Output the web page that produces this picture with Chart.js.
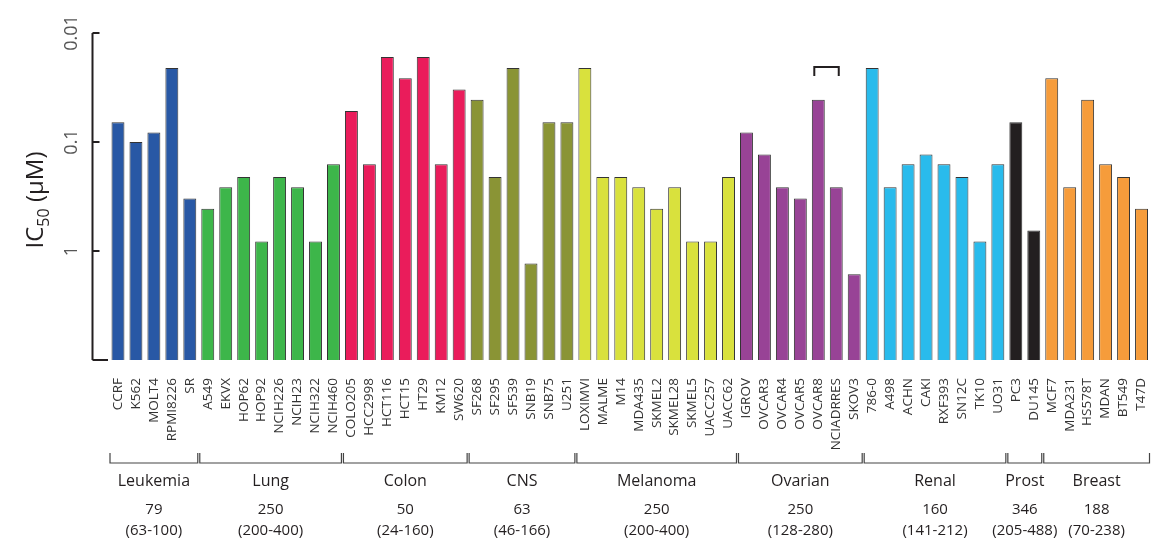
<!DOCTYPE html>
<html>
<head>
<meta charset="utf-8">
<script src="https://cdn.jsdelivr.net/npm/chart.js@4"></script>
<style>
  html, body { margin: 0; padding: 0; background: #fff; }
  #wrap { width: 1157px; height: 542px; }
</style>
</head>
<body>
<div id="wrap"><canvas id="ic50"></canvas></div>
<script>
const cellLines = [
  "CCRF","K562","MOLT4","RPMI8226","SR",
  "A549","EKVX","HOP62","HOP92","NCIH226","NCIH23","NCIH322","NCIH460",
  "COLO205","HCC2998","HCT116","HCT15","HT29","KM12","SW620",
  "SF268","SF295","SF539","SNB19","SNB75","U251",
  "LOXIMVI","MALME","M14","MDA435","SKMEL2","SKMEL28","SKMEL5","UACC257","UACC62",
  "IGROV","OVCAR3","OVCAR4","OVCAR5","OVCAR8","NCIADRRES","SKOV3",
  "786-0","A498","ACHN","CAKI","RXF393","SN12C","TK10","UO31",
  "PC3","DU145",
  "MCF7","MDA231","HS578T","MDAN","BT549","T47D"
];
// IC50 in µM
const ic50 = [
  0.066, 0.10, 0.082, 0.021, 0.33,
  0.41, 0.26, 0.21, 0.82, 0.21, 0.26, 0.82, 0.16,
  0.052, 0.16, 0.0166, 0.026, 0.0166, 0.16, 0.033,
  0.041, 0.21, 0.021, 1.3, 0.066, 0.066,
  0.021, 0.21, 0.21, 0.26, 0.41, 0.26, 0.82, 0.82, 0.21,
  0.082, 0.13, 0.26, 0.33, 0.041, 0.26, 1.63,
  0.021, 0.26, 0.16, 0.13, 0.16, 0.21, 0.82, 0.16,
  0.066, 0.65,
  0.026, 0.26, 0.041, 0.16, 0.21, 0.41
];
const groupNames = ["Leukemia","Lung","Colon","CNS","Melanoma","Ovarian","Renal","Prost","Breast"];
const groupSizes = [5, 8, 7, 6, 9, 7, 8, 2, 6];
const groupMedians = ["79","250","50","63","250","250","160","346","188"];
const groupRanges = ["(63-100)","(200-400)","(24-160)","(46-166)","(200-400)","(128-280)","(141-212)","(205-488)","(70-238)"];
const groupColors = ["#2858a5","#3db64a","#ea1c5b","#8a9435","#d9e13d","#984396","#29bbec","#231f20","#f69c3b"];
const yTicks = [0.01, 0.1, 1];
const yTickLabels = ["0.01","0.1","1"];

const barColors = [];
groupSizes.forEach((n, g) => { for (let i = 0; i < n; i++) barColors.push(groupColors[g]); });

// y axis, group brackets and labels drawn with the chart's own scales
const decorations = {
  id: "decorations",
  afterDraw(chart) {
    const ctx = chart.ctx;
    const x = chart.scales.x;
    const y = chart.scales.y;
    const area = chart.chartArea;
    const axisX = area.left - 16.5;
    const yTop = y.getPixelForValue(0.01);
    const yBot = y.getPixelForValue(10);

    ctx.save();
    ctx.strokeStyle = "#231f20";
    ctx.lineWidth = 2;
    ctx.beginPath();
    ctx.moveTo(axisX, yTop);
    ctx.lineTo(axisX, yBot);
    yTicks.forEach(v => {
      const py = y.getPixelForValue(v);
      ctx.moveTo(axisX, py);
      ctx.lineTo(axisX + 7, py);
    });
    ctx.moveTo(axisX, yBot);
    ctx.lineTo(area.left - 1, yBot);
    ctx.stroke();

    ctx.fillStyle = "#555";
    ctx.font = "18px 'Open Sans'";
    ctx.textAlign = "center";
    ctx.textBaseline = "middle";
    yTicks.forEach((v, i) => {
      ctx.save();
      ctx.translate(axisX - 21, y.getPixelForValue(v));
      ctx.rotate(-Math.PI / 2);
      ctx.fillText(yTickLabels[i], 0, 0);
      ctx.restore();
    });

    // axis title with subscript
    ctx.save();
    ctx.translate(34, 200);
    ctx.rotate(-Math.PI / 2);
    ctx.fillStyle = "#231f20";
    ctx.textAlign = "left";
    ctx.textBaseline = "alphabetic";
    const big = "24px 'Open Sans'", small = "16px 'Open Sans'";
    ctx.font = big;
    const w1 = ctx.measureText("IC").width;
    const w3 = ctx.measureText(" (\u03bcM)").width;
    ctx.font = small;
    const w2 = ctx.measureText("50").width;
    let sx = -(w1 + w2 + w3) / 2;
    ctx.font = big;
    ctx.fillText("IC", sx, 9);
    ctx.font = small;
    ctx.fillText("50", sx + w1, 15);
    ctx.font = big;
    ctx.fillText(" (\u03bcM)", sx + w1 + w2, 9);
    ctx.restore();

    // group brackets
    const half = (x.getPixelForValue(1) - x.getPixelForValue(0)) / 2;
    let start = 0;
    ctx.lineWidth = 1.2;
    ctx.strokeStyle = "#444";
    groupSizes.forEach((n, g) => {
      const end = start + n - 1;
      const l = x.getPixelForValue(start) - half + 1;
      const r = x.getPixelForValue(end) + half - 1;
      ctx.beginPath();
      ctx.moveTo(l, 453);
      ctx.lineTo(l, 463);
      ctx.lineTo(r, 463);
      ctx.lineTo(r, 453);
      ctx.stroke();
      const cx = (x.getPixelForValue(start) + x.getPixelForValue(end)) / 2;
      ctx.fillStyle = "#231f20";
      ctx.textAlign = "center";
      ctx.textBaseline = "middle";
      ctx.font = "16px 'Open Sans'";
      ctx.fillText(groupNames[g], cx, 481);
      ctx.font = "15px 'Open Sans'";
      ctx.fillText(groupMedians[g], cx, 510);
      ctx.fillText(groupRanges[g], cx, 531);
      start += n;
    });

    // bracket over OVCAR8 / NCIADRRES
    const b1 = x.getPixelForValue(cellLines.indexOf("OVCAR8")) - 4;
    const b2 = x.getPixelForValue(cellLines.indexOf("NCIADRRES")) + 2.5;
    ctx.lineWidth = 2;
    ctx.strokeStyle = "#231f20";
    ctx.beginPath();
    ctx.moveTo(b1, 76);
    ctx.lineTo(b1, 67);
    ctx.lineTo(b2, 67);
    ctx.lineTo(b2, 76);
    ctx.stroke();
    ctx.restore();
  }
};

new Chart(document.getElementById("ic50"), {
  type: "bar",
  data: {
    labels: cellLines,
    datasets: [{
      data: ic50,
      base: 10,
      backgroundColor: barColors,
      borderColor: "#333",
      borderWidth: 1,
      barPercentage: 0.72,
      categoryPercentage: 1
    }]
  },
  options: {
    responsive: true,
    maintainAspectRatio: false,
    animation: false,
    layout: { padding: { left: 109, right: 6.5, top: 33, bottom: 0 } },
    plugins: { legend: { display: false }, tooltip: { enabled: false } },
    scales: {
      x: {
        grid: { display: false, drawTicks: false },
        border: { display: false },
        ticks: {
          autoSkip: false,
          minRotation: 90,
          maxRotation: 90,
          padding: 18,
          color: "#333",
          font: { family: "'Open Sans'", size: 13.5 }
        },
        afterFit(scale) {
          scale.height = 182;
          scale.paddingLeft = 0;
          scale.paddingRight = 0;
        }
      },
      y: {
        type: "logarithmic",
        reverse: true,
        min: 0.01,
        max: 10,
        display: false
      }
    }
  },
  plugins: [decorations]
});
</script>
</body>
</html>
